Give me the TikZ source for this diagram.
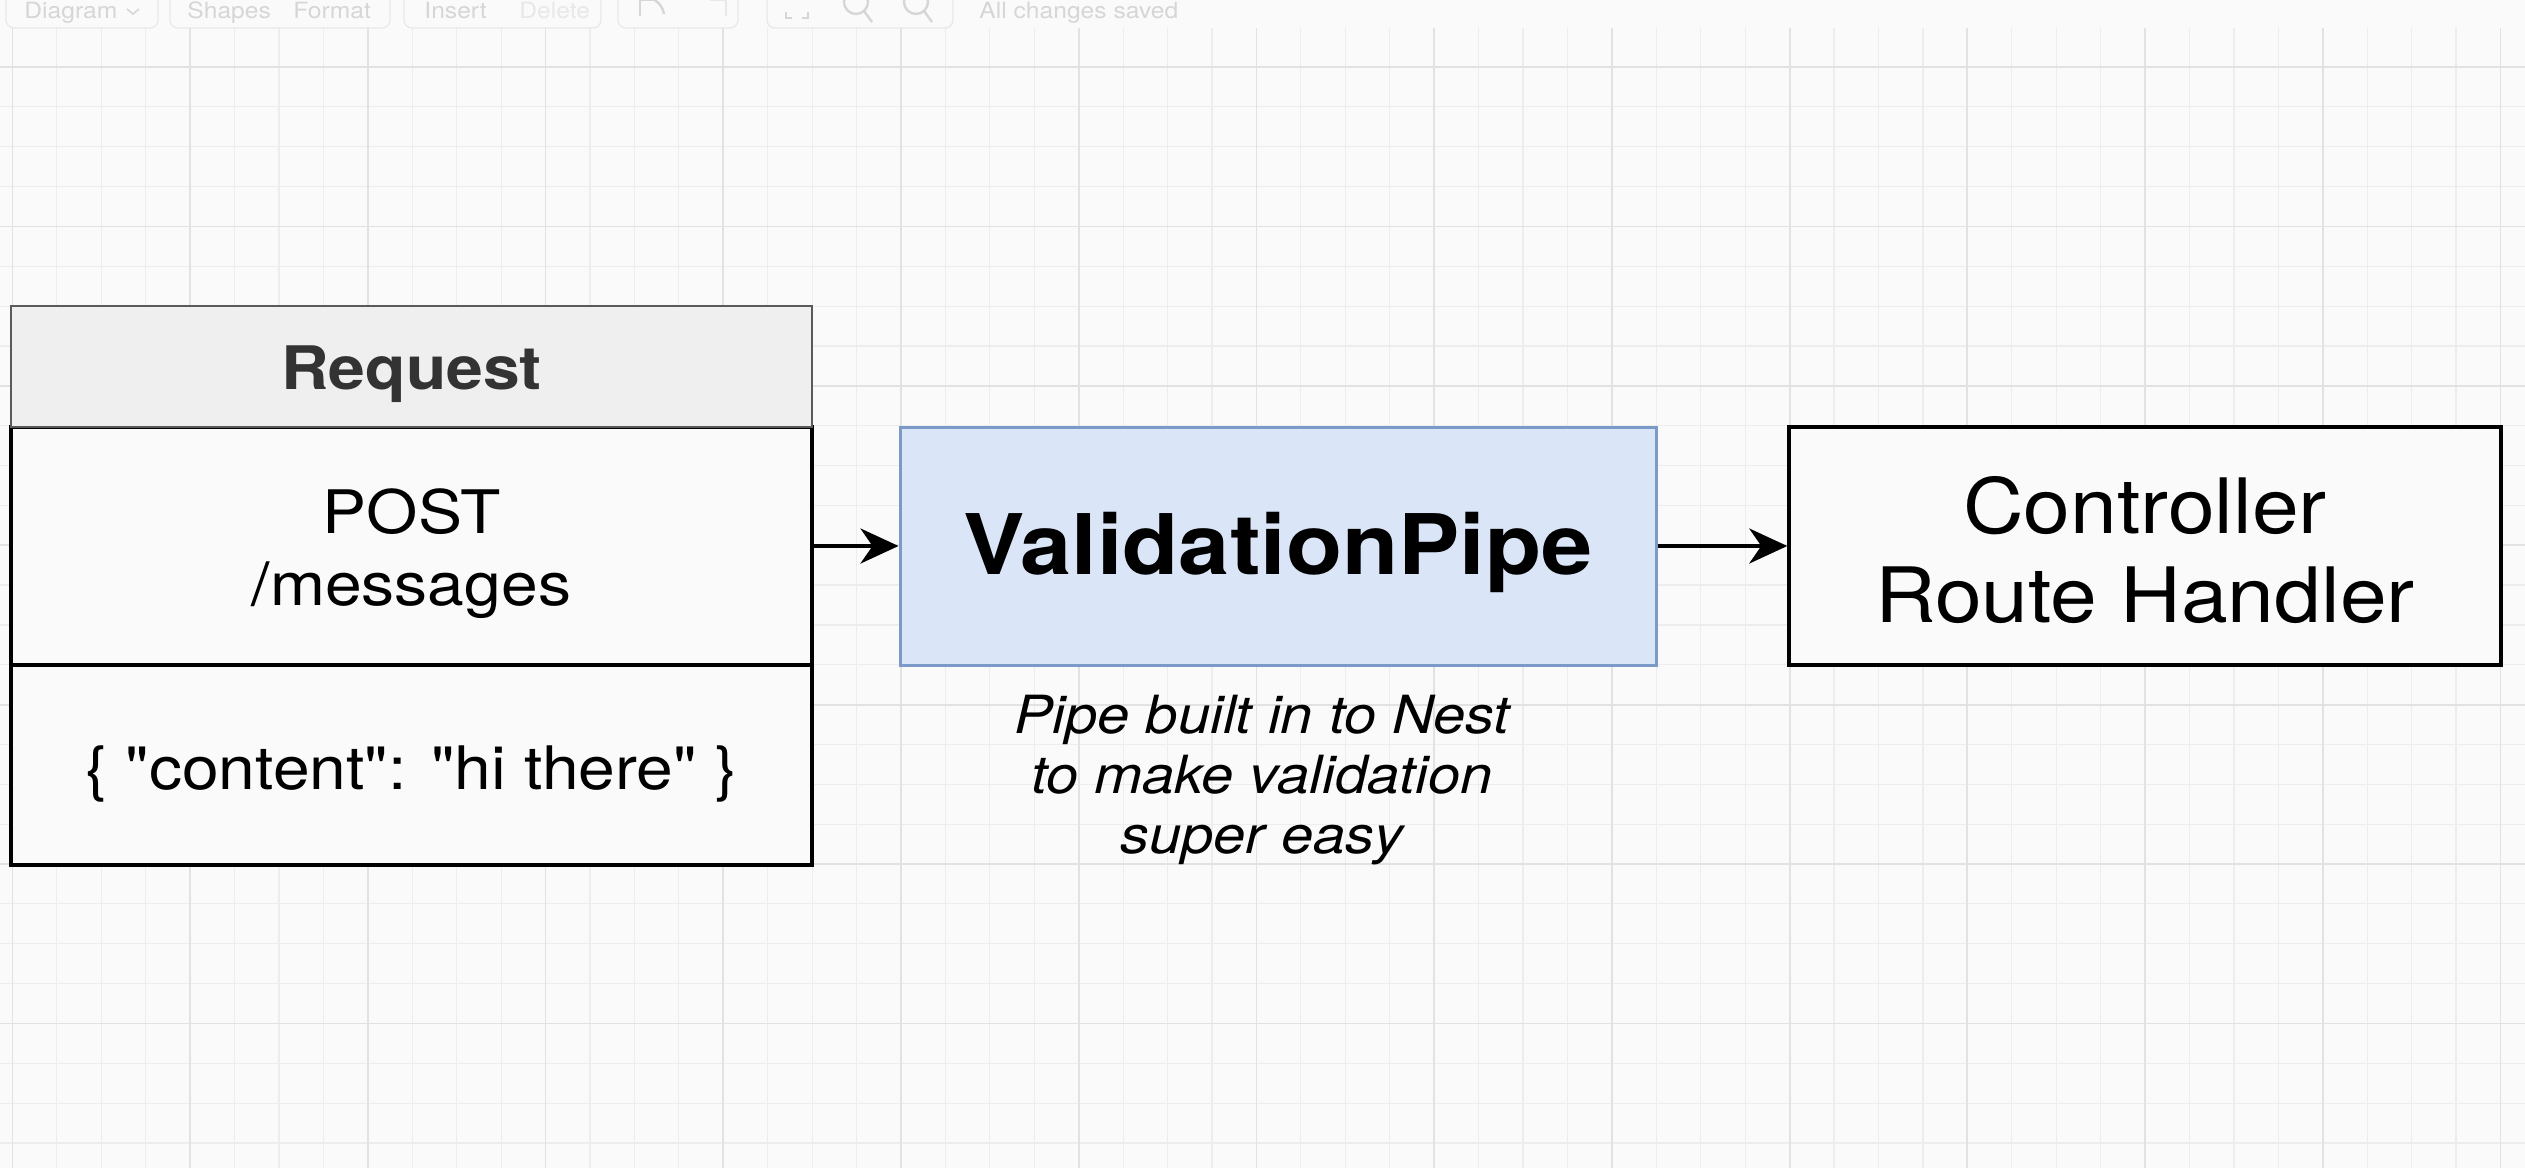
\documentclass[tikz,border=0pt]{standalone}
\usepackage{fontspec}
\setmainfont{TeX Gyre Heros}[FakeStretch=1.1,Ligatures=TeXOff]
\usetikzlibrary{arrows.meta}
\definecolor{bgc}{HTML}{FAFAFA}
\definecolor{gminor}{HTML}{EDEDED}
\definecolor{gmajor}{HTML}{E2E2E2}
\definecolor{hdrfill}{HTML}{EFEFEF}
\definecolor{hdrline}{HTML}{5A5A5A}
\definecolor{pipefill}{HTML}{DAE6F8}
\definecolor{pipeline}{HTML}{7C9AC8}
\definecolor{tbtext}{HTML}{D6D6D6}
\definecolor{tbfaint}{HTML}{E8E8E8}
\begin{document}
\begin{tikzpicture}[x=0.5pt,y=-0.5pt,
  minorgrid/.style={gminor,line width=0.6pt},
  majorgrid/.style={gmajor,line width=0.9pt},
  box/.style={draw=black,line width=1.75pt,fill=bgc,inner sep=0pt},
  hdrbox/.style={draw=hdrline,line width=1.4pt,fill=hdrfill,inner sep=0pt},
  hdrtext/.style={inner sep=0pt,align=center,text=black!80,font=\fontsize{30}{36}\selectfont\bfseries},
  reqtext/.style={inner sep=0pt,align=center,font=\fontsize{30}{36}\selectfont},
  pipebox/.style={draw=pipeline,line width=1.5pt,fill=pipefill,inner sep=0pt},
  pipetext/.style={inner sep=0pt,font=\fontsize{41.8}{50}\selectfont\bfseries},
  ctrltext/.style={inner sep=0pt,align=center,font=\fontsize{38.2}{44.5}\selectfont},
  note/.style={align=center,inner sep=0pt,font=\fontsize{26.3}{30}\selectfont\itshape},
  arr/.style={line width=2pt,-{Stealth[length=19pt,width=17.5pt,inset=6pt]}},
  tb/.style={anchor=base west,inner sep=0pt,text=tbtext,font=\fontsize{11.2}{13}\selectfont},
  tbbox/.style={draw=tbfaint,line width=0.6pt,rounded corners=4pt},
  tbicon/.style={draw=tbtext,line width=1.2pt}
]
\useasboundingbox (0,0) rectangle (2525,1168);
\fill[bgc] (0,0) rectangle (2525,1168);
% grid
\foreach \i in {0,...,56} {
  \pgfmathsetmacro{\gx}{12.4+44.43*\i}
  \draw[minorgrid] (\gx,0) -- (\gx,1168);
}
\foreach \j in {-1,...,27} {
  \pgfmathsetmacro{\gy}{67+39.85*\j}
  \draw[minorgrid] (0,\gy) -- (2525,\gy);
}
\foreach \i in {0,4,...,56} {
  \pgfmathsetmacro{\gx}{12.4+44.43*\i}
  \draw[majorgrid] (\gx,0) -- (\gx,1168);
}
\foreach \j in {0,4,...,24} {
  \pgfmathsetmacro{\gy}{67+39.85*\j}
  \draw[majorgrid] (0,\gy) -- (2525,\gy);
}
% toolbar (faded, at the top edge)
\fill[bgc] (0,-20) rectangle (2525,28);
\draw[tbbox] (6,-20) rectangle (158,28);
\draw[tbbox] (170,-20) rectangle (390,28);
\draw[tbbox] (404,-20) rectangle (601,28);
\draw[tbbox] (618,-20) rectangle (738,28);
\draw[tbbox] (767,-20) rectangle (953,28);
\node[tb] (tbdiagram) at (24,18) {Diagram};
\coordinate (chev) at (133,9);
\draw[tbicon,line width=0.8pt] ([xshift=-3pt]chev) -- ([yshift=-2.5pt]chev) -- ([xshift=3pt]chev);
\node[tb] (tbshapes) at (187,18) {Shapes};
\node[tb] (tbformat) at (293,18) {Format};
\node[tb] (tbinsert) at (424,18) {Insert};
\node[tb,text=tbfaint] (tbdelete) at (519,18) {Delete};
\node[tb] (tbsaved) at (979,18) {All changes saved};
% undo / redo
\draw[tbicon] (640,16) -- (640,0) -- (656,0);
\draw[tbicon] (640,0) .. controls (650,-6) and (662,2) .. (664,14);
\draw[tbicon,draw=tbfaint] (726,16) -- (726,0) -- (710,0);
% fit
\draw[tbicon] (786,12) -- (786,18) -- (792,18);
\draw[tbicon] (802,18) -- (808,18) -- (808,12);
% zoom in / out
\draw[tbicon] (856,2) circle[radius=6pt];
\draw[tbicon] (864,11) -- (872,22);
\draw[tbicon] (916,2) circle[radius=6pt];
\draw[tbicon] (924,11) -- (932,22);
% request table
\node[box,minimum width=400.5pt,minimum height=119pt] (reqmid) at (411.5,546) {};
\node[box,minimum width=400.5pt,minimum height=100pt] (reqbody) at (411.5,765) {};
\node[hdrbox,minimum width=400.5pt,minimum height=60.5pt] (reqhdr) at (411.5,366.5) {};
\node[hdrtext] (reqhdrtext) at ([yshift=-4pt]reqhdr.center) {Request};
\node[reqtext] (reqmidtext) at ([yshift=-4pt]reqmid.center) {POST\\/messages};
\node[reqtext] (reqbodytext) at ([yshift=-4.5pt]reqbody.center) {\{ "content": "hi there" \}};
% pipe
\node[pipebox,minimum width=378pt,minimum height=119pt] (pipe) at (1278,546) {};
\node[pipetext] (pipetext) at ([yshift=-3pt]pipe.center) {ValidationPipe};
% controller
\node[box,minimum width=356pt,minimum height=119pt] (ctrl) at (2145,546) {};
\node[ctrltext] (ctrltext) at ([yshift=-2pt]ctrl.center) {Controller\\Route Handler};
% note
\node[note] (pipenote) at (1262,780) {Pipe built in to Nest\\to make validation\\super easy};
% arrows
\draw[arr] (reqmid.east) -- (pipe.west);
\draw[arr] (pipe.east) -- (ctrl.west);
\end{tikzpicture}
\end{document}
